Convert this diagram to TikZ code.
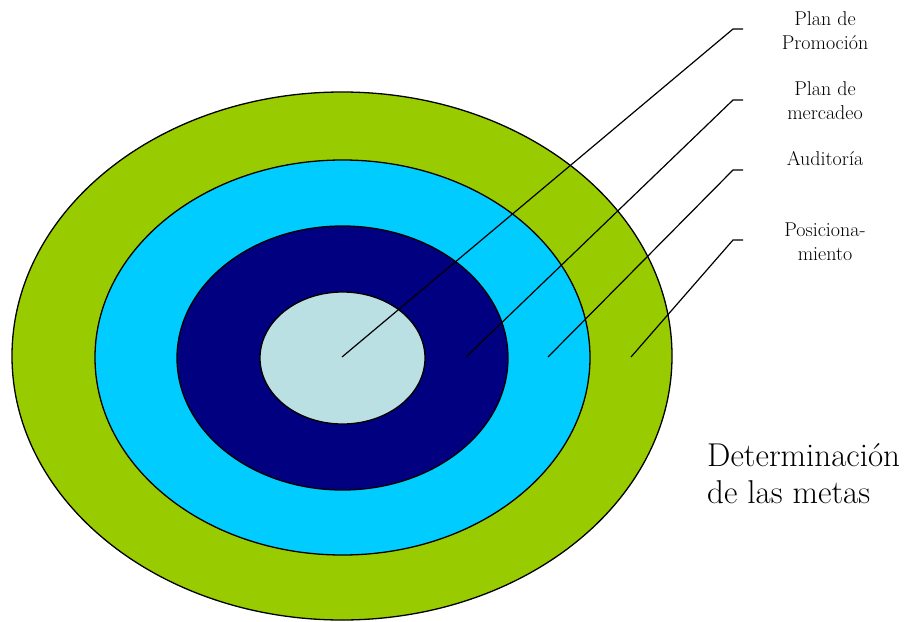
\documentclass[tikz,border=0pt]{standalone}
\usetikzlibrary{shapes.geometric}
\definecolor{cgreen}{HTML}{99CC00}
\definecolor{cblue}{HTML}{00CCFF}
\definecolor{cnavy}{HTML}{000080}
\definecolor{cpale}{HTML}{BBE0E3}
\tikzset{
  ring/.style={ellipse, draw=black, line width=1.3pt, inner sep=0pt},
  lead/.style={draw=black, line width=1.2pt},
  lbl/.style={align=center, font=\fontsize{20}{24}\selectfont, inner sep=0pt},
  biglbl/.style={align=left, font=\fontsize{33}{37}\selectfont, inner sep=0pt, anchor=north west}
}
\begin{document}
\begin{tikzpicture}[x=1pt,y=-1pt]
\useasboundingbox (0,0) rectangle (904,621);
\node[ring, fill=cgreen, minimum width=660pt, minimum height=528pt] (r1) at (342,356) {};
\node[ring, fill=cblue, minimum width=495pt, minimum height=395pt] (r2) at (342.5,357.5) {};
\node[ring, fill=cnavy, minimum width=331pt, minimum height=264pt] (r3) at (342.5,358) {};
\node[ring, fill=cpale, minimum width=165pt, minimum height=132pt] (r4) at (342.5,358) {};
\coordinate (p1) at (342,357);
\coordinate (p2) at (466,357);
\coordinate (p3) at (548,357);
\coordinate (p4) at (631,357);
\coordinate (k1) at (733,29);
\coordinate (k2) at (733,100);
\coordinate (k3) at (733,170);
\coordinate (k4) at (733,240);
\coordinate (e1) at (743,29);
\coordinate (e2) at (743,100);
\coordinate (e3) at (743,170);
\coordinate (e4) at (743,240);
\draw[lead] (p1) -- (k1) -- (e1);
\draw[lead] (p2) -- (k2) -- (e2);
\draw[lead] (p3) -- (k3) -- (e3);
\draw[lead] (p4) -- (k4) -- (e4);
\node[lbl] (t1) at (825,31) {Plan de\\Promoción};
\node[lbl] (t2) at (825,101) {Plan de\\mercadeo};
\node[lbl] (t3) at (825,159) {Auditoría};
\node[lbl] (t4) at (825,242) {Posiciona-\\miento};
\node[biglbl] (t5) at (707,443) {Determinación\\de las metas};
\end{tikzpicture}
\end{document}
